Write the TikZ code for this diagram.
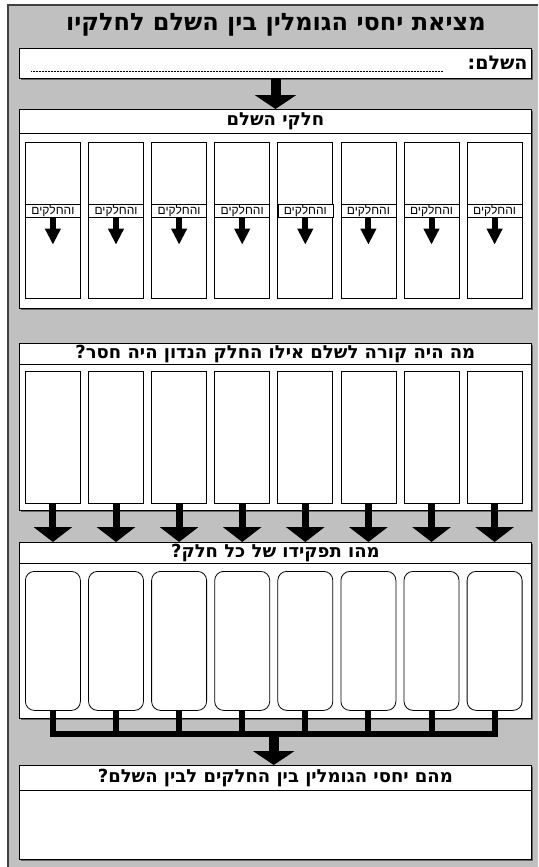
\documentclass[tikz,border=0pt]{standalone}
\usepackage{fontspec}
\usepackage{tikz}
\usetikzlibrary{positioning,arrows.meta,calc,shadows}
\TeXXeTstate=1
\newfontfamily\hebfont[Script=Hebrew]{Liberation Sans}
\newfontfamily\hebheavy[Script=Hebrew]{DejaVu Sans Bold}
\definecolor{sheetgray}{RGB}{192,192,192}

\tikzset{
  panel/.style={draw, fill=white, line width=1pt, anchor=north west,
    minimum width=512pt, inner sep=0pt,
    drop shadow={shadow xshift=1.3pt, shadow yshift=-1.3pt, opacity=1, fill=black!60}},
  headbar/.style={draw, fill=white, line width=0.8pt, anchor=north west,
    minimum width=512pt, inner sep=0pt,
    font=\hebheavy\fontsize{18}{20}\selectfont},
  partbox/.style={draw, fill=white, line width=0.8pt, anchor=north west,
    minimum width=55pt, inner sep=0pt},
  tagbox/.style={draw, fill=white, line width=0.6pt, anchor=north,
    minimum width=55pt, minimum height=13pt, inner sep=0pt,
    font=\hebfont\fontsize{12}{13}\selectfont},
  smallarrow/.style={line width=6pt, -{Triangle[width=15pt,length=16pt]}},
  midarrow/.style={line width=7pt, -{Triangle[width=38pt,length=15pt]}},
  bigarrow/.style={line width=10pt, -{Triangle[width=41pt,length=14pt]}}
}

\begin{document}
\begin{tikzpicture}[x=1pt,y=-1pt]
		
		\useasboundingbox
		(0,0)
		rectangle
		(538,867);
		
		% sheet
		\fill[sheetgray]
		(8,5)
		rectangle
		(538,867);
		
		\draw[line width=1.2pt,black!75]
		(8,867) -- (8,5) -- (538,5);
		
		\node[font=\hebheavy\fontsize{24}{28}\selectfont] (title) at (276,25)
		{\beginR מציאת יחסי הגומלין בין השלם לחלקיו\endR};
		
		% the whole
		\node[panel, minimum height=30pt] (whole) at (19,48) {};
		
		\node[anchor=east, font=\hebheavy\fontsize{19}{21}\selectfont] (wholetag) at (531,63)
		{\beginR השלם:\endR};
		
		\draw[line width=0.5pt, dash pattern=on 0.6pt off 0.9pt]
		(31,71) -- (443,71);
		
		% parts of the whole
		\node[panel, minimum height=199pt] (p1) at (19,109) {};
		\node[headbar, minimum height=24pt] (h1) at (p1.north west)
		{\beginR חלקי השלם\endR};
		
		\foreach \i [evaluate=\i as \bx using 25+63.1*(\i-1)] in {1,...,8}{
			\node[partbox, minimum height=156pt] (b\i) at (\bx,142) {};
			\node[tagbox, below=62pt of b\i.north] (t\i) {\beginR והחלקים\endR};
			\draw[smallarrow] (t\i.south) -- ++(0,27);
		}
		
		% what if missing
		\node[panel, minimum height=167pt] (p2) at (19,343) {};
		\node[headbar, minimum height=21pt] (h2) at (p2.north west)
		{\beginR מה היה קורה לשלם אילו החלק הנדון היה חסר?\endR};
		
		\foreach \i [evaluate=\i as \bx using 25+63.1*(\i-1)] in {1,...,8}{
			\node[partbox, minimum height=132pt] (w\i) at (\bx,371) {};
		}
		
		% role of each part
		\node[panel, minimum height=176pt] (p3) at (19,542) {};
		\node[headbar, minimum height=21pt] (h3) at (p3.north west)
		{\beginR מהו תפקידו של כל חלק?\endR};
		
		\foreach \i [evaluate=\i as \bx using 25+63.1*(\i-1)] in {1,...,8}{
			\node[partbox, rounded corners=9pt, minimum height=139pt] (r\i) at (\bx,571) {};
			\draw[midarrow] (w\i.south) -- (w\i.south |- p3.north);
		}
		
		% relations
		\node[panel, minimum height=94pt] (p4) at (19,765) {};
		\node[headbar, minimum height=25pt] (h4) at (p4.north west)
		{\beginR מהם יחסי הגומלין בין החלקים לבין השלם?\endR};
		
		\coordinate (barL) at ($(r1.south)+(0,23)$);
		\coordinate (barR) at ($(r8.south)+(0,23)$);
		\coordinate (barM) at ($(barL)!0.5!(barR)$);
		
		\foreach \i in {1,...,8}{
			\draw[line width=6pt] (r\i.south) -- (r\i.south |- barL);
		}
		
		\draw[line width=6pt, line cap=rect]
		(barL) -- (barR);
		
		\draw[bigarrow] (barM) -- (barM |- p4.north);
		
		\draw[bigarrow] (whole.south) -- (p1.north);
		
	\end{tikzpicture}
\end{document}
